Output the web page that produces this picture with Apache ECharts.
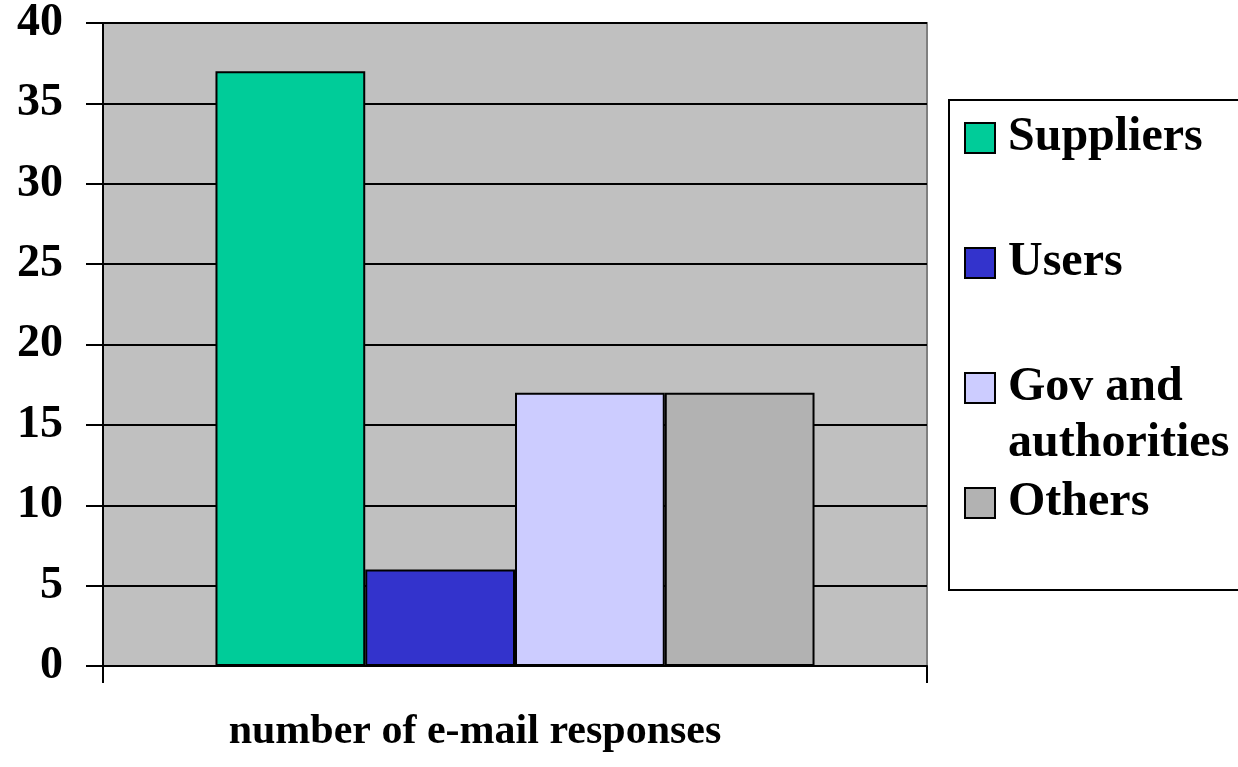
<!DOCTYPE html>
<html>
<head>
<meta charset="utf-8">
<script src="https://cdn.jsdelivr.net/npm/echarts@6/dist/echarts.min.js"></script>
<style>
html,body{margin:0;padding:0;background:#fff;}
#chart{width:1238px;height:767px;}
</style>
</head>
<body>
<div id="chart"></div>
<script>
var categories = ['number of e-mail responses'];
var seriesNames = ['Suppliers', 'Users', 'Gov and authorities', 'Others'];
var legendLabels = ['Suppliers', 'Users', '\nGov and\nauthorities', 'Others'];
var seriesValues = [[37], [6], [17], [17]];
var seriesColors = ['#00CC99', '#3333CC', '#CCCCFF', '#B2B2B2'];
var yTicks = { min: 0, max: 40, interval: 5 };

var FONT = "'Times New Roman', 'Liberation Serif', serif";
var legendTops = [110, 235, 304, 475];

var chart = echarts.init(document.getElementById('chart'));
var option = {
  animation: false,
  backgroundColor: '#ffffff',
  grid: {
    left: 103, top: 23, right: 311, bottom: 101,
    show: true, backgroundColor: '#C0C0C0', borderColor: '#808080', borderWidth: 2
  },
  xAxis: {
    type: 'category',
    data: categories,
    axisLine: { show: true, lineStyle: { color: '#000', width: 2 } },
    axisTick: { show: true, length: 17, lineStyle: { color: '#000', width: 2 } },
    axisLabel: {
      margin: 45, color: '#000', fontFamily: FONT, fontWeight: 'bold', fontSize: 42,
      padding: [0, 80, 0, 0]
    },
    splitLine: { show: false }
  },
  yAxis: {
    type: 'value',
    min: yTicks.min, max: yTicks.max, interval: yTicks.interval,
    axisLine: { show: true, lineStyle: { color: '#000', width: 2 } },
    axisTick: { show: true, length: 17, lineStyle: { color: '#000', width: 2 } },
    axisLabel: {
      margin: 40, color: '#000', fontFamily: FONT, fontWeight: 'bold', fontSize: 46,
      padding: [6, 0, 0, 0]
    },
    splitLine: { show: true, lineStyle: { color: '#000', width: 2 } }
  },
  graphic: [{
    type: 'rect', z: 0,
    shape: { x: 949, y: 100, width: 300, height: 490 },
    style: { fill: '#fff', stroke: '#000', lineWidth: 2 }
  }],
  legend: seriesNames.map(function (n, i) {
    return {
      data: [n],
      left: 964, top: legendTops[i],
      orient: 'vertical', padding: 0,
      icon: 'rect', itemWidth: 30, itemHeight: 30,
      selectedMode: false,
      formatter: function () { return legendLabels[i]; },
      itemStyle: { borderColor: '#000', borderWidth: 2 },
      textStyle: {
        fontFamily: FONT, fontWeight: 'bold', fontSize: 48, color: '#000',
        lineHeight: 56,
        padding: [0, 0, 0, 8]
      },
      z: 5
    };
  }),
  series: seriesNames.map(function (n, i) {
    return {
      type: 'bar',
      name: n,
      data: seriesValues[i],
      barGap: '0%',
      barCategoryGap: '27.3%',
      itemStyle: { color: seriesColors[i], borderColor: '#000', borderWidth: 2 }
    };
  })
};
chart.setOption(option);
</script>
</body>
</html>
